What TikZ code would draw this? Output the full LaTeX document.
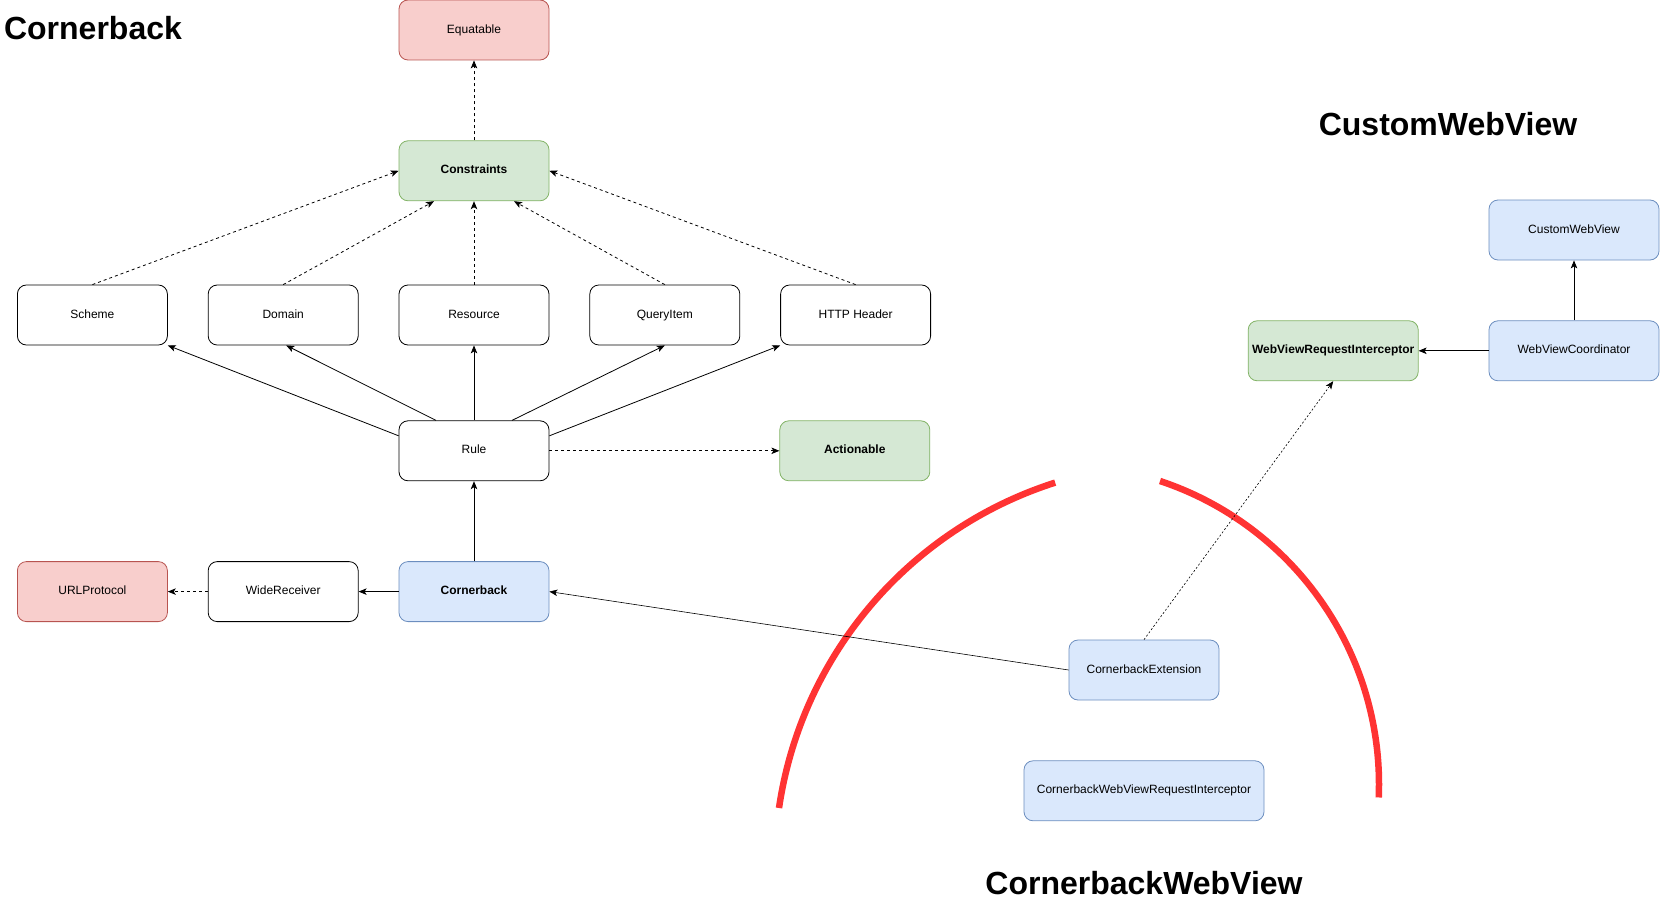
\documentclass[tikz,border=0pt]{standalone}
\usepackage{fontspec}
\setmainfont{Liberation Sans}
\usetikzlibrary{arrows.meta,positioning}
\definecolor{redfill}{HTML}{F8CECC}
\definecolor{redline}{HTML}{B85450}
\definecolor{grnfill}{HTML}{D5E8D4}
\definecolor{grnline}{HTML}{82B366}
\definecolor{blufill}{HTML}{DAE8FC}
\definecolor{bluline}{HTML}{6C8EBF}
\definecolor{arcred}{HTML}{FF3333}
\tikzset{
  blk/.style={draw,rectangle,rounded corners=9pt,minimum width=150pt,minimum height=60pt,line width=0.8pt,inner sep=0pt,align=center,text height=8.6pt,text depth=2.4pt,font=\fontsize{12}{14}\selectfont},
  redblk/.style={blk,fill=redfill,draw=redline},
  grnblk/.style={blk,fill=grnfill,draw=grnline},
  blublk/.style={blk,fill=blufill,draw=bluline},
  arr/.style={-{Stealth[length=8pt,width=6.5pt,inset=2pt]},line width=0.8pt},
  darr/.style={arr,dash pattern=on 3pt off 3pt},
  thinarr/.style={arr,line width=0.6pt},
  dotarr/.style={thinarr,dash pattern=on 2pt off 2pt},
  ttl/.style={font=\fontsize{32}{38}\selectfont\bfseries},
  arcline/.style={draw=arcred,line width=6.5pt}
}
\begin{document}
\begin{tikzpicture}[x=1pt,y=-1pt,node distance=40pt and 40pt]
  \useasboundingbox (0,0) rectangle (1661,904);

  % Cornerback
  \node[redblk] (equatable) at (474,30) {Equatable};
  \node[grnblk, below=80pt of equatable] (constraints) {\textbf{Constraints}};
  \node[blk] (resource) at (474,315) {Resource};
  \node[blk, left=of resource] (domain) {Domain};
  \node[blk, left=of domain] (scheme) {Scheme};
  \node[blk, right=of resource] (queryitem) {QueryItem};
  \node[blk, right=of queryitem] (httpheader) {HTTP Header};
  \node[blk, below=75pt of resource] (rule) {Rule};
  \node[grnblk, right=230pt of rule] (actionable) {\textbf{Actionable}};
  \node[blublk, below=80pt of rule] (cornerback) {\textbf{Cornerback}};
  \node[blk, left=of cornerback] (widereceiver) {WideReceiver};
  \node[redblk, left=of widereceiver] (urlprotocol) {URLProtocol};

  % CustomWebView
  \node[blublk, minimum width=170pt] (customwebview) at (1574,230) {CustomWebView};
  \node[blublk, minimum width=170pt, below=60pt of customwebview] (coordinator) {WebViewCoordinator};
  \node[grnblk, minimum width=170pt, left=70pt of coordinator] (interceptor) {\textbf{WebViewRequestInterceptor}};

  % CornerbackWebView
  \node[blublk] (extension) at (1144,670) {CornerbackExtension};
  \node[blublk, minimum width=240pt, below=60pt of extension] (cbinterceptor) {CornerbackWebViewRequestInterceptor};

  \node[ttl] (ttlcornerback) at (93,28) {Cornerback};
  \node[ttl] (ttlcustom) at (1448,124) {CustomWebView};
  \node[ttl] (ttlcbwebview) at (1144,883) {CornerbackWebView};

  \draw[arcline] (779,808) arc[start angle=188.35, end angle=252.3, radius=403];
  \draw[arcline] (1160,481) arc[start angle=288.4, end angle=362.3, radius=320];

  \draw[darr] (constraints) -- (equatable);
  \draw[darr] (scheme.north) -- (constraints.west);
  \draw[darr] (domain.north) -- ([xshift=-40pt]constraints.south);
  \draw[darr] (resource) -- (constraints);
  \draw[darr] (queryitem.north) -- ([xshift=40pt]constraints.south);
  \draw[darr] (httpheader.north) -- (constraints.east);

  \draw[arr] ([yshift=15pt]rule.west) -- (scheme.south east);
  \draw[arr] ([xshift=-38pt]rule.north) -- ([xshift=3pt]domain.south);
  \draw[arr] (rule) -- (resource);
  \draw[arr] ([xshift=38pt]rule.north) -- (queryitem.south);
  \draw[arr] ([yshift=15pt]rule.east) -- (httpheader.south west);
  \draw[darr] (rule) -- (actionable);

  \draw[arr] (cornerback) -- (rule);
  \draw[arr] (cornerback) -- (widereceiver);
  \draw[darr] (widereceiver) -- (urlprotocol);

  \draw[thinarr] (extension.west) -- (cornerback.east);
  \draw[dotarr] (extension.north) -- (interceptor.south);

  \draw[arr] (coordinator) -- (interceptor);
  \draw[arr] (coordinator) -- (customwebview);
\end{tikzpicture}
\end{document}
